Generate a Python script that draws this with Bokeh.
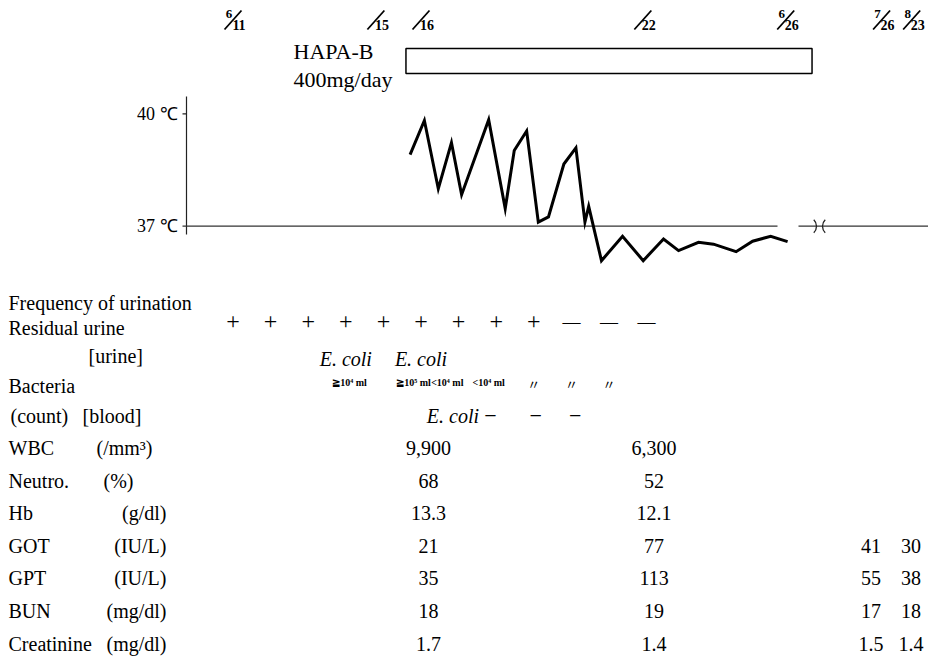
from bokeh.plotting import figure
from bokeh.models import Range1d
from bokeh.core.properties import value
from bokeh.embed import file_html
from bokeh.resources import INLINE

# ---------------- data ----------------
# body temperature (x = day of June, y = degC)
temp_day = [15.71, 16.09, 16.46, 16.81, 17.08, 17.80, 18.24, 18.48, 18.81, 19.12,
            19.39, 19.80, 20.12, 20.36, 20.46, 20.80, 21.36, 21.91, 22.45, 22.85,
            23.38, 23.78, 24.38, 24.82, 25.30, 25.75]
temp_c = [38.91, 39.82, 38.00, 39.23, 37.84, 39.84, 37.47, 39.02, 39.54, 37.11,
          37.25, 38.66, 39.09, 37.11, 37.53, 36.08, 36.73, 36.08, 36.66, 36.35,
          36.57, 36.52, 36.32, 36.60, 36.73, 36.59]
temp_ticks = [40, 37]
temp_tick_labels = ["40 \u2103", "37 \u2103"]

# date marks on top
date_month = ["6", "", "", "", "6", "7", "8"]
date_day = ["11", "15", "16", "22", "26", "26", "23"]
date_pos = [11.0, 14.8, 16.0, 21.9, 25.7, 28.25, 29.05]

# drug administration
hapa_label = ["HAPA-B", "400mg/day"]
hapa_start, hapa_end = 15.6, 26.4

# residual urine
residual_days = [11, 12, 13, 14, 15, 16, 17, 18, 19, 20, 21, 22]
residual_marks = ["+", "+", "+", "+", "+", "+", "+", "+", "+", "\u2014", "\u2014", "\u2014"]

# bacteria
urine_bact_days = [14, 16]
urine_bact = ["E. coli", "E. coli"]
urine_count_days = [14.1, 15.8, 16.7, 17.8]
urine_count = ["\u226710\u2074 ml", "\u226710\u2075 ml", "<10\u2074 ml", "<10\u2074 ml"]
ditto_days = [19, 20, 21]
ditto = ["\u3003", "\u3003", "\u3003"]
blood_days = [16.85, 17.85, 19.05, 20.1]
blood = ["E. coli", "\u2212", "\u2212", "\u2212"]

# laboratory data: columns 6/16, 6/22, 7/26, 8/23
lab_cols = [16.2, 22.2, 27.97, 29.03]
lab_names = ["WBC", "Neutro.", "Hb", "GOT", "GPT", "BUN", "Creatinine"]
lab_units = ["(/mm\u00b3)", "(%)", "(g/dl)", "(IU/L)", "(IU/L)", "(mg/dl)", "(mg/dl)"]
wbc = ["9,900", "6,300", "", ""]
neutro = ["68", "52", "", ""]
hb = ["13.3", "12.1", "", ""]
got = ["21", "77", "41", "30"]
gpt = ["35", "113", "55", "38"]
bun = ["18", "19", "17", "18"]
creat = ["1.7", "1.4", "1.5", "1.4"]
lab_values = [wbc, neutro, hb, got, gpt, bun, creat]

# ---------------- layout ----------------
SERIF = value("Liberation Serif")
W, H = 928, 660
PX_PER_DAY = 37.6
X_DAY11 = 232.5              # pixel of day 11
x0 = 11 - X_DAY11 / PX_PER_DAY
x1 = x0 + W / PX_PER_DAY
PX_PER_C = 37.47
Y_40 = 113.3                 # pixel of 40 degC from the top
t_top = 40 + Y_40 / PX_PER_C
t_bot = t_top - H / PX_PER_C

p = figure(width=W, height=H, x_range=Range1d(x0, x1), y_range=Range1d(t_bot, t_top),
           output_backend="svg", toolbar_location=None, tools="", min_border=0,
           x_axis_location=None, y_axis_location=None)
p.grid.visible = False
p.outline_line_color = None
p.background_fill_color = "white"
p.border_fill_color = "white"
p.extra_y_ranges = {"px": Range1d(start=H, end=0)}
p.extra_x_ranges = {"px": Range1d(start=0, end=W)}


def xd(px):
    """pixel column -> day coordinate"""
    return 11 + (px - X_DAY11) / PX_PER_DAY


def dx(px):
    return px / PX_PER_DAY


# --- temperature panel ---
axis_x = xd(186)
tick_x = xd(182)
p.segment(x0=[axis_x], y0=[36.78], x1=[axis_x], y1=[40.46], line_color="#222", line_width=1.2)
p.segment(x0=[tick_x], y0=[40], x1=[axis_x], y1=[40], line_color="#222", line_width=1.2)
# 37 degC reference line with an axis break
p.segment(x0=[tick_x, xd(798)], y0=[37, 37], x1=[xd(777), x1], y1=[37, 37],
          line_color="#333", line_width=1.2)
p.arc(x=[xd(816) - dx(9)], y=[37], radius=9, radius_units="screen",
      start_angle=-0.8, end_angle=0.8, line_color="#222", line_width=1.3)
p.arc(x=[xd(822) + dx(9)], y=[37], radius=9, radius_units="screen",
      start_angle=3.14159 - 0.8, end_angle=3.14159 + 0.8, line_color="#222", line_width=1.3)
p.text(x=[xd(177)] * 2, y=temp_ticks, text=temp_tick_labels,
       text_align="right", text_baseline="middle", text_font=SERIF,
       text_font_size="18px", text_color="black")
p.line(temp_day, temp_c, line_width=3, line_color="black", line_join="miter")

# --- date marks ---
p.segment(x0=[d - dx(8.5) for d in date_pos], y0=[29] * len(date_pos),
          x1=[d + dx(8.5) for d in date_pos], y1=[10] * len(date_pos),
          y_range_name="px", line_color="black", line_width=1.8)
p.text(x=date_pos, y=[13] * len(date_pos), text=date_month, x_offset=-4,
       y_range_name="px", text_align="center", text_baseline="middle",
       text_font=SERIF, text_font_size="13px", text_font_style="bold", text_color="black")
p.text(x=date_pos, y=[24] * len(date_pos), text=date_day, x_offset=6,
       y_range_name="px", text_align="center", text_baseline="middle",
       text_font=SERIF, text_font_size="14px", text_font_style="bold", text_color="black")

# --- drug box ---
p.quad(left=[hapa_start], right=[hapa_end], top=[48], bottom=[73], y_range_name="px",
       fill_color="white", line_color="black", line_width=1.5)
p.text(x=[293, 293], y=[50.5, 79], text=hapa_label, x_range_name="px", y_range_name="px",
       text_align="left", text_baseline="middle", text_font=SERIF,
       text_font_size="22px", text_color="black")

# --- table: row labels ---
FS = "20px"
lab_y = [447, 480, 512, 545, 577, 610, 643]
p.text(x=[8, 8, 8, 10], y=[302, 327, 385, 415],
       text=["Frequency of urination", "Residual urine", "Bacteria", "(count)"],
       x_range_name="px", y_range_name="px", text_align="left", text_baseline="middle",
       text_font=SERIF, text_font_size=FS, text_color="black")
p.text(x=[88, 82], y=[355, 415], text=["[urine]", "[blood]"],
       x_range_name="px", y_range_name="px", text_align="left", text_baseline="middle",
       text_font=SERIF, text_font_size=FS, text_color="black")
p.text(x=[8] * len(lab_names), y=lab_y, text=lab_names,
       x_range_name="px", y_range_name="px", text_align="left", text_baseline="middle",
       text_font=SERIF, text_font_size=FS, text_color="black")
unit_right = [152, 133, 166, 166, 166, 166, 166]
p.text(x=unit_right, y=lab_y, text=lab_units,
       x_range_name="px", y_range_name="px", text_align="right", text_baseline="middle",
       text_font=SERIF, text_font_size=FS, text_color="black")

# --- table: entries ---
p.text(x=residual_days[:9], y=[321] * 9, text=residual_marks[:9],
       y_range_name="px", text_align="center", text_baseline="middle",
       text_font=SERIF, text_font_size="24px", text_color="black")
p.text(x=residual_days[9:], y=[321] * 3, text=residual_marks[9:],
       y_range_name="px", text_align="center", text_baseline="middle",
       text_font=SERIF, text_font_size="18px", text_color="black")
p.text(x=urine_bact_days, y=[358] * 2, text=urine_bact, y_range_name="px",
       text_align="center", text_baseline="middle", text_font=SERIF,
       text_font_size=FS, text_font_style="italic", text_color="black")
p.text(x=urine_count_days, y=[382] * len(urine_count_days), text=urine_count,
       y_range_name="px", text_align="center", text_baseline="middle",
       text_font=SERIF, text_font_size="10px", text_font_style="bold", text_color="black")
p.text(x=ditto_days, y=[383] * 3, text=ditto, y_range_name="px",
       text_align="center", text_baseline="middle", text_font=value("Noto Sans CJK JP"),
       text_font_size="13px", text_color="black")
p.text(x=blood_days[:1], y=[415], text=blood[:1], y_range_name="px",
       text_align="center", text_baseline="middle", text_font=SERIF,
       text_font_size=FS, text_font_style="italic", text_color="black")
p.text(x=blood_days[1:], y=[415] * 3, text=blood[1:], y_range_name="px",
       text_align="center", text_baseline="middle", text_font=SERIF,
       text_font_size="22px", text_color="black")
for vals, yy in zip(lab_values, lab_y):
    p.text(x=lab_cols, y=[yy] * len(lab_cols), text=vals, y_range_name="px",
           text_align="center", text_baseline="middle", text_font=SERIF,
           text_font_size=FS, text_color="black")

open("out.html", "w").write(file_html(p, INLINE))
